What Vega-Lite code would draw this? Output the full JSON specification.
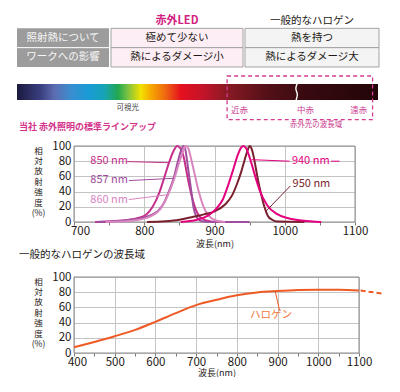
{
  "$schema": "https://vega.github.io/schema/vega-lite/v6.json",
  "padding": {"left": 16, "top": 9, "right": 0, "bottom": 0},
  "autosize": {"type": "pad"},
  "background": "white",
  "spacing": 0,
  "config": {"view": {"stroke": null}, "font": "Noto Sans CJK JP", "concat": {"spacing": 0}},
  "datasets": {
    "table": [
      {"column": "label", "row": "照射熱", "text": "照射熱について"},
      {"column": "label", "row": "影響", "text": "ワークへの影響"},
      {"column": "led", "row": "header", "text": "赤外LED"},
      {"column": "led", "row": "照射熱", "text": "極めて少ない"},
      {"column": "led", "row": "影響", "text": "熱によるダメージ小"},
      {"column": "halogen", "row": "header", "text": "一般的なハロゲン"},
      {"column": "halogen", "row": "照射熱", "text": "熱を持つ"},
      {"column": "halogen", "row": "影響", "text": "熱によるダメージ大"}
    ],
    "regions": [
      {"region": "spectrum", "start": 0, "end": 100},
      {"region": "infrared", "start": 58.2, "end": 98.5}
    ],
    "spectrumLabels": [
      {"label": "可視光", "kind": "visible", "pos": 30.7},
      {"label": "近赤", "kind": "ir", "pos": 61.6},
      {"label": "中赤", "kind": "ir", "pos": 79.9},
      {"label": "遠赤", "kind": "ir", "pos": 94.7},
      {"label": "赤外光の波長域", "kind": "caption", "pos": 82.8}
    ],
    "squiggle": [
      {"pos": 77.6, "lvl": 16},
      {"pos": 77.0, "lvl": 21},
      {"pos": 77.9, "lvl": 26},
      {"pos": 77.3, "lvl": 32}
    ],
    "frame1": [{"nm": 700, "nm2": 1100, "pct": 0, "pct2": 100}],
    "frame2": [{"nm": 400, "nm2": 1100, "pct": 0, "pct2": 100}],
    "curves": [
      {"series": "850 nm", "nm": 730, "pct": 0}, {"series": "850 nm", "nm": 765, "pct": 1.5}, {"series": "850 nm", "nm": 790, "pct": 5}, {"series": "850 nm", "nm": 803, "pct": 10}, {"series": "850 nm", "nm": 812, "pct": 20}, {"series": "850 nm", "nm": 822, "pct": 40}, {"series": "850 nm", "nm": 829, "pct": 60}, {"series": "850 nm", "nm": 836, "pct": 80}, {"series": "850 nm", "nm": 842, "pct": 94}, {"series": "850 nm", "nm": 847, "pct": 100}, {"series": "850 nm", "nm": 852, "pct": 96}, {"series": "850 nm", "nm": 857, "pct": 82}, {"series": "850 nm", "nm": 861, "pct": 62}, {"series": "850 nm", "nm": 866, "pct": 40}, {"series": "850 nm", "nm": 872, "pct": 20}, {"series": "850 nm", "nm": 879, "pct": 7}, {"series": "850 nm", "nm": 888, "pct": 2}, {"series": "850 nm", "nm": 900, "pct": 0},
      {"series": "857 nm", "nm": 733, "pct": 0}, {"series": "857 nm", "nm": 770, "pct": 2}, {"series": "857 nm", "nm": 800, "pct": 6}, {"series": "857 nm", "nm": 812, "pct": 10}, {"series": "857 nm", "nm": 820, "pct": 15}, {"series": "857 nm", "nm": 828, "pct": 25}, {"series": "857 nm", "nm": 835, "pct": 40}, {"series": "857 nm", "nm": 842, "pct": 58}, {"series": "857 nm", "nm": 848, "pct": 80}, {"series": "857 nm", "nm": 852, "pct": 93}, {"series": "857 nm", "nm": 856, "pct": 100}, {"series": "857 nm", "nm": 859, "pct": 93}, {"series": "857 nm", "nm": 861, "pct": 80}, {"series": "857 nm", "nm": 864, "pct": 60}, {"series": "857 nm", "nm": 867, "pct": 40}, {"series": "857 nm", "nm": 870, "pct": 20}, {"series": "857 nm", "nm": 875, "pct": 6}, {"series": "857 nm", "nm": 882, "pct": 1}, {"series": "857 nm", "nm": 895, "pct": 0}, {"series": "857 nm", "nm": 950, "pct": 0},
      {"series": "860 nm", "nm": 745, "pct": 0}, {"series": "860 nm", "nm": 785, "pct": 2}, {"series": "860 nm", "nm": 808, "pct": 7}, {"series": "860 nm", "nm": 822, "pct": 16}, {"series": "860 nm", "nm": 834, "pct": 36}, {"series": "860 nm", "nm": 842, "pct": 55}, {"series": "860 nm", "nm": 849, "pct": 76}, {"series": "860 nm", "nm": 854, "pct": 90}, {"series": "860 nm", "nm": 859, "pct": 100}, {"series": "860 nm", "nm": 863, "pct": 96}, {"series": "860 nm", "nm": 867, "pct": 82}, {"series": "860 nm", "nm": 872, "pct": 62}, {"series": "860 nm", "nm": 877, "pct": 42}, {"series": "860 nm", "nm": 884, "pct": 21}, {"series": "860 nm", "nm": 892, "pct": 8}, {"series": "860 nm", "nm": 902, "pct": 2}, {"series": "860 nm", "nm": 915, "pct": 0},
      {"series": "950 nm", "nm": 804, "pct": 0}, {"series": "950 nm", "nm": 830, "pct": 1}, {"series": "950 nm", "nm": 850, "pct": 3}, {"series": "950 nm", "nm": 870, "pct": 7}, {"series": "950 nm", "nm": 885, "pct": 10}, {"series": "950 nm", "nm": 900, "pct": 14}, {"series": "950 nm", "nm": 915, "pct": 23}, {"series": "950 nm", "nm": 925, "pct": 35}, {"series": "950 nm", "nm": 932, "pct": 50}, {"series": "950 nm", "nm": 938, "pct": 66}, {"series": "950 nm", "nm": 943, "pct": 82}, {"series": "950 nm", "nm": 947, "pct": 94}, {"series": "950 nm", "nm": 950, "pct": 100}, {"series": "950 nm", "nm": 953, "pct": 96}, {"series": "950 nm", "nm": 956, "pct": 85}, {"series": "950 nm", "nm": 959, "pct": 70}, {"series": "950 nm", "nm": 962, "pct": 55}, {"series": "950 nm", "nm": 966, "pct": 38}, {"series": "950 nm", "nm": 971, "pct": 20}, {"series": "950 nm", "nm": 976, "pct": 8}, {"series": "950 nm", "nm": 982, "pct": 3}, {"series": "950 nm", "nm": 990, "pct": 0.5}, {"series": "950 nm", "nm": 1028, "pct": 0},
      {"series": "940 nm", "nm": 852, "pct": 0}, {"series": "940 nm", "nm": 875, "pct": 3}, {"series": "940 nm", "nm": 890, "pct": 8}, {"series": "940 nm", "nm": 902, "pct": 17}, {"series": "940 nm", "nm": 912, "pct": 30}, {"series": "940 nm", "nm": 920, "pct": 50}, {"series": "940 nm", "nm": 927, "pct": 70}, {"series": "940 nm", "nm": 933, "pct": 88}, {"series": "940 nm", "nm": 938, "pct": 98}, {"series": "940 nm", "nm": 941, "pct": 100}, {"series": "940 nm", "nm": 945, "pct": 97}, {"series": "940 nm", "nm": 951, "pct": 82}, {"series": "940 nm", "nm": 958, "pct": 60}, {"series": "940 nm", "nm": 965, "pct": 40}, {"series": "940 nm", "nm": 975, "pct": 22}, {"series": "940 nm", "nm": 988, "pct": 11}, {"series": "940 nm", "nm": 1005, "pct": 5}, {"series": "940 nm", "nm": 1025, "pct": 2}, {"series": "940 nm", "nm": 1052, "pct": 0}
    ],
    "leaders1": [
      {"series": "850 nm", "seg": "a", "nm": 776, "pct": 79.5}, {"series": "850 nm", "seg": "a", "nm": 836, "pct": 78},
      {"series": "857 nm", "seg": "b", "nm": 778, "pct": 54.5}, {"series": "857 nm", "seg": "b", "nm": 842, "pct": 57.5},
      {"series": "860 nm", "seg": "c", "nm": 778, "pct": 29.5}, {"series": "860 nm", "seg": "c", "nm": 834, "pct": 36},
      {"series": "940 nm", "seg": "d", "nm": 953, "pct": 82}, {"series": "940 nm", "seg": "d", "nm": 1007, "pct": 80},
      {"series": "940 nm", "seg": "e", "nm": 1066, "pct": 80}, {"series": "940 nm", "seg": "e", "nm": 1078, "pct": 80},
      {"series": "950 nm", "seg": "f", "nm": 973, "pct": 14}, {"series": "950 nm", "seg": "f", "nm": 1008, "pct": 47.5}
    ],
    "labels1": [
      {"series": "850 nm", "nm": 750, "pct": 80},
      {"series": "857 nm", "nm": 750, "pct": 55},
      {"series": "860 nm", "nm": 750, "pct": 29},
      {"series": "940 nm", "nm": 1037, "pct": 80},
      {"series": "950 nm", "nm": 1038, "pct": 50}
    ],
    "halogen": [
      {"part": "main", "nm": 400, "pct": 7.5}, {"part": "main", "nm": 450, "pct": 14.5}, {"part": "main", "nm": 500, "pct": 22}, {"part": "main", "nm": 550, "pct": 30.4}, {"part": "main", "nm": 600, "pct": 41}, {"part": "main", "nm": 650, "pct": 52.4}, {"part": "main", "nm": 700, "pct": 63}, {"part": "main", "nm": 750, "pct": 70}, {"part": "main", "nm": 800, "pct": 76}, {"part": "main", "nm": 850, "pct": 79.7}, {"part": "main", "nm": 900, "pct": 81.5}, {"part": "main", "nm": 950, "pct": 82.8}, {"part": "main", "nm": 1000, "pct": 83.3}, {"part": "main", "nm": 1050, "pct": 83.2}, {"part": "main", "nm": 1100, "pct": 82.4},
      {"part": "beyond", "nm": 1104, "pct": 82.2}, {"part": "beyond", "nm": 1162, "pct": 77.8}
    ],
    "leader2": [{"nm": 894, "pct": 81.5}, {"nm": 905, "pct": 56}],
    "label2": [{"text": "ハロゲン", "nm": 884, "pct": 50}]
  },
  "vconcat": [
    {
      "spacing": 0,
      "hconcat": [
        {
          "width": 92, "height": 58,
          "data": {"name": "table"},
          "transform": [{"filter": "datum.column === 'label'"}],
          "encoding": {"y": {"field": "row", "type": "nominal", "scale": {"domain": ["header", "照射熱", "影響"], "paddingInner": 0, "paddingOuter": 0}, "axis": null}},
          "layer": [
            {"mark": {"type": "rect", "fill": "#9c9c9c"}},
            {"transform": [{"filter": "datum.row === '影響'"}], "mark": {"type": "rule", "stroke": "#ffffff", "strokeWidth": 1}, "encoding": {"y": {"field": "row", "type": "nominal", "bandPosition": 0}}},
            {"mark": {"type": "text", "fill": "#f6f6f6", "fontSize": 10.5}, "encoding": {"text": {"field": "text"}}}
          ]
        },
        {
          "width": 132, "height": 58,
          "data": {"name": "table"},
          "transform": [{"filter": "datum.column === 'led'"}],
          "encoding": {"y": {"field": "row", "type": "nominal", "scale": {"domain": ["header", "照射熱", "影響"], "paddingInner": 0, "paddingOuter": 0}, "axis": null}},
          "layer": [
            {"transform": [{"filter": "datum.row !== 'header'"}], "mark": {"type": "rect", "fill": "#fdeef5", "stroke": "#a3a3a3", "strokeWidth": 1}},
            {"transform": [{"filter": "datum.row !== 'header'"}], "mark": {"type": "text", "fill": "#231815", "fontSize": 10.5}, "encoding": {"text": {"field": "text"}}},
            {"transform": [{"filter": "datum.row === 'header'"}], "mark": {"type": "text", "fill": "#d2207f", "fontSize": 11, "fontWeight": "bold", "dy": 2}, "encoding": {"text": {"field": "text"}}}
          ]
        },
        {
          "width": 134, "height": 58,
          "data": {"name": "table"},
          "transform": [{"filter": "datum.column === 'halogen'"}],
          "encoding": {"y": {"field": "row", "type": "nominal", "scale": {"domain": ["header", "照射熱", "影響"], "paddingInner": 0, "paddingOuter": 0}, "axis": null}},
          "layer": [
            {"transform": [{"filter": "datum.row !== 'header'"}], "mark": {"type": "rect", "fill": "#f4f4f4", "stroke": "#a3a3a3", "strokeWidth": 1}},
            {"transform": [{"filter": "datum.row !== 'header'"}], "mark": {"type": "text", "fill": "#231815", "fontSize": 10.5}, "encoding": {"text": {"field": "text"}}},
            {"transform": [{"filter": "datum.row === 'header'"}], "mark": {"type": "text", "fill": "#231815", "fontSize": 10.5, "dy": 2}, "encoding": {"text": {"field": "text"}}}
          ]
        }
      ]
    },
    {
      "width": 361, "height": 72,
      "layer": [
        {
          "data": {"name": "regions"},
          "transform": [{"filter": "datum.region === 'spectrum'"}],
          "mark": {"type": "rect", "color": {"gradient": "linear", "x1": 0, "y1": 0, "x2": 1, "y2": 0, "stops": [
            {"offset": 0, "color": "#1a1a40"}, {"offset": 0.066, "color": "#3b3f80"}, {"offset": 0.103, "color": "#5c6cb0"}, {"offset": 0.15, "color": "#3a8ed0"}, {"offset": 0.196, "color": "#1a9ad6"}, {"offset": 0.241, "color": "#17a3b8"}, {"offset": 0.28, "color": "#22a850"}, {"offset": 0.307, "color": "#7cc242"}, {"offset": 0.343, "color": "#f2e200"}, {"offset": 0.371, "color": "#f6a800"}, {"offset": 0.41, "color": "#ef6a10"}, {"offset": 0.454, "color": "#e5101e"}, {"offset": 0.52, "color": "#c0142a"}, {"offset": 0.58, "color": "#8a1a24"}, {"offset": 0.69, "color": "#551018"}, {"offset": 0.8, "color": "#380a10"}, {"offset": 1, "color": "#220508"}]}},
          "encoding": {
            "x": {"field": "start", "type": "quantitative", "scale": {"domain": [0, 100], "nice": false, "zero": false}, "axis": null},
            "x2": {"field": "end"},
            "y": {"datum": 16, "type": "quantitative", "scale": {"domain": [0, 72], "reverse": true, "nice": false, "zero": false}, "axis": null},
            "y2": {"datum": 32}
          }
        },
        {
          "data": {"name": "squiggle"},
          "mark": {"type": "line", "stroke": "#ffffff", "strokeWidth": 1.4, "interpolate": "basis"},
          "encoding": {
            "x": {"field": "pos", "type": "quantitative", "axis": null},
            "y": {"field": "lvl", "type": "quantitative", "axis": null},
            "order": {"field": "lvl"}
          }
        },
        {
          "data": {"name": "regions"},
          "transform": [{"filter": "datum.region === 'infrared'"}],
          "mark": {"type": "rect", "fill": null, "stroke": "#d23c92", "strokeWidth": 1.3, "strokeDash": [4, 3]},
          "encoding": {
            "x": {"field": "start", "type": "quantitative", "axis": null},
            "x2": {"field": "end"},
            "y": {"datum": 8, "type": "quantitative", "axis": null},
            "y2": {"datum": 51.7}
          }
        },
        {
          "data": {"name": "spectrumLabels"},
          "transform": [{"filter": "datum.kind === 'visible'"}],
          "mark": {"type": "text", "fill": "#444444", "fontSize": 7.5},
          "encoding": {"x": {"field": "pos", "type": "quantitative", "axis": null}, "y": {"datum": 39.7, "type": "quantitative", "axis": null}, "text": {"field": "label"}}
        },
        {
          "data": {"name": "spectrumLabels"},
          "transform": [{"filter": "datum.kind === 'ir'"}],
          "mark": {"type": "text", "fill": "#cc3d8e", "fontSize": 8.5},
          "encoding": {"x": {"field": "pos", "type": "quantitative", "axis": null}, "y": {"datum": 42.3, "type": "quantitative", "axis": null}, "text": {"field": "label"}}
        },
        {
          "data": {"name": "spectrumLabels"},
          "transform": [{"filter": "datum.kind === 'caption'"}],
          "mark": {"type": "text", "fill": "#cc3d8e", "fontSize": 7.5},
          "encoding": {"x": {"field": "pos", "type": "quantitative", "axis": null}, "y": {"datum": 57.3, "type": "quantitative", "axis": null}, "text": {"field": "label"}}
        },
        {
          "data": {"values": [{"heading": "当社 赤外照明の標準ラインアップ", "pos": 0.55}]},
          "mark": {"type": "text", "fill": "#d4338a", "fontSize": 9, "fontWeight": "bold", "align": "left"},
          "encoding": {"x": {"field": "pos", "type": "quantitative", "axis": null}, "y": {"datum": 59.3, "type": "quantitative", "axis": null}, "text": {"field": "heading"}}
        }
      ]
    },
    {
      "width": 361, "height": 76,
      "encoding": {
        "x": {"field": "nm", "type": "quantitative", "scale": {"domain": [700, 1100], "range": [57, 338], "nice": false, "zero": false},
          "axis": {"title": "波長(nm)", "values": [700, 750, 800, 850, 900, 950, 1000, 1050, 1100], "labelExpr": "datum.value % 100 === 0 ? datum.label : ''", "format": "d", "labelOffset": {"condition": {"test": "datum.value === 700", "value": 6}, "value": 0}, "grid": true, "gridColor": "#c4c4c4", "gridOpacity": {"condition": {"test": "datum.value % 100 !== 0", "value": 0}, "value": 1}, "domain": false, "ticks": true, "tickSize": 3, "tickColor": "#777777", "labelFontSize": 11.5, "labelColor": "#231815", "labelPadding": 0, "labelFlush": false, "labelOverlap": false, "titleFontSize": 9, "titleFontWeight": "normal", "titleColor": "#231815", "titleX": 197.5, "titleY": 21.5, "titleBaseline": "middle", "titleAlign": "center"}},
        "y": {"field": "pct", "type": "quantitative", "scale": {"domain": [0, 100], "nice": false},
          "axis": {"title": ["相", "対", "放", "射", "強", "度", "(%)"], "values": [0, 20, 40, 60, 80, 100], "grid": true, "gridColor": "#c4c4c4", "domain": false, "ticks": false, "offset": -57, "labelFontSize": 11.5, "labelColor": "#231815", "labelPadding": 3, "labelOverlap": false, "titleAngle": 0, "titleX": -36, "titleY": 0, "titleBaseline": "top", "titleAlign": "center", "titleFontSize": 8.5, "titleLineHeight": 10.4, "titleFontWeight": "normal", "titleColor": "#231815"}}
      },
      "layer": [
        {
          "data": {"name": "frame1"},
          "mark": {"type": "rect", "fill": null, "stroke": "#8c8c8c", "strokeWidth": 1},
          "encoding": {"x2": {"field": "nm2"}, "y2": {"field": "pct2"}}
        },
        {
          "data": {"name": "curves"},
          "mark": {"type": "line", "strokeWidth": 2, "interpolate": "monotone"},
          "encoding": {
            "color": {"field": "series", "type": "nominal", "scale": {"domain": ["850 nm", "857 nm", "860 nm", "940 nm", "950 nm"], "range": ["#c62f8a", "#a04d9e", "#d985bf", "#e4007f", "#7a1f2e"]}, "legend": null}
          }
        },
        {
          "data": {"name": "leaders1"},
          "mark": {"type": "line", "strokeWidth": 1},
          "encoding": {
            "detail": {"field": "seg"},
            "color": {"field": "series", "type": "nominal", "legend": null}
          }
        },
        {
          "data": {"name": "labels1"},
          "mark": {"type": "text", "fontSize": 11},
          "encoding": {
            "text": {"field": "series"},
            "color": {"field": "series", "type": "nominal", "legend": null}
          }
        }
      ]
    },
    {
      "width": 361, "height": 76,
      "title": {"text": "一般的なハロゲンの波長域", "anchor": "start", "frame": "group", "fontSize": 10.5, "fontWeight": "normal", "color": "#231815", "offset": 1, "baseline": "bottom", "dx": 2},
      "encoding": {
        "x": {"field": "nm", "type": "quantitative", "scale": {"domain": [400, 1100], "range": [57, 342], "nice": false, "zero": false},
          "axis": {"title": "波長(nm)", "values": [400, 450, 500, 550, 600, 650, 700, 750, 800, 850, 900, 950, 1000, 1050, 1100], "labelExpr": "datum.value % 100 === 0 ? datum.label : ''", "format": "d", "labelOffset": {"condition": {"test": "datum.value === 400", "value": 3}, "value": 0}, "grid": true, "gridColor": "#c4c4c4", "gridOpacity": {"condition": {"test": "datum.value % 100 !== 0", "value": 0}, "value": 1}, "domain": false, "ticks": true, "tickSize": 3, "tickColor": "#777777", "labelFontSize": 11.5, "labelColor": "#231815", "labelPadding": 0, "labelFlush": false, "labelOverlap": false, "titleFontSize": 9, "titleFontWeight": "normal", "titleColor": "#231815", "titleX": 199.5, "titleY": 19, "titleBaseline": "middle", "titleAlign": "center"}},
        "y": {"field": "pct", "type": "quantitative", "scale": {"domain": [0, 100], "nice": false},
          "axis": {"title": ["相", "対", "放", "射", "強", "度", "(%)"], "values": [0, 20, 40, 60, 80, 100], "grid": true, "gridColor": "#c4c4c4", "domain": false, "ticks": false, "offset": -57, "labelFontSize": 11.5, "labelColor": "#231815", "labelPadding": 3, "labelOverlap": false, "titleAngle": 0, "titleX": -36, "titleY": 0, "titleBaseline": "top", "titleAlign": "center", "titleFontSize": 8.5, "titleLineHeight": 10.4, "titleFontWeight": "normal", "titleColor": "#231815"}}
      },
      "layer": [
        {
          "data": {"name": "frame2"},
          "mark": {"type": "rect", "fill": null, "stroke": "#8c8c8c", "strokeWidth": 1},
          "encoding": {"x2": {"field": "nm2"}, "y2": {"field": "pct2"}}
        },
        {
          "data": {"name": "halogen"},
          "transform": [{"filter": "datum.part === 'main'"}],
          "mark": {"type": "line", "strokeWidth": 2, "stroke": "#ee5a24", "interpolate": "monotone"}
        },
        {
          "data": {"name": "halogen"},
          "transform": [{"filter": "datum.part === 'beyond'"}],
          "mark": {"type": "line", "strokeWidth": 2, "stroke": "#ee5a24", "strokeDash": [5, 3]}
        },
        {
          "data": {"name": "leader2"},
          "mark": {"type": "line", "strokeWidth": 1, "stroke": "#ee5a24"}
        },
        {
          "data": {"name": "label2"},
          "mark": {"type": "text", "fontSize": 10.5, "fill": "#f07a3a"},
          "encoding": {"text": {"field": "text"}}
        }
      ]
    }
  ]
}
